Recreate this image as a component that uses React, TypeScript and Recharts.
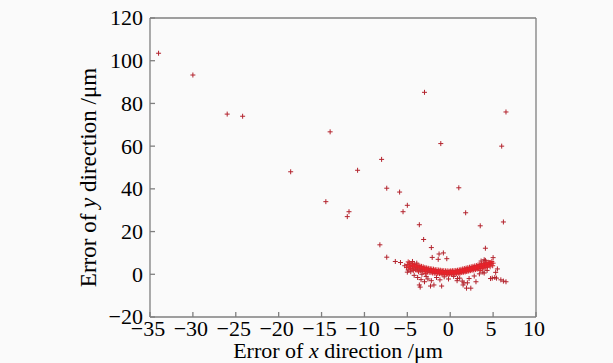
import { ScatterChart, Scatter, XAxis, YAxis } from 'recharts';

// scattered outliers (x, y) in µm
const outliers: [number, number][] = [
  [-34.0, 103.5], [-30.0, 93.3], [-26.0, 75.0], [-24.2, 74.0], [-18.6, 48.0],
  [-14.5, 34.0], [-14.0, 66.7], [-12.0, 27.0], [-11.8, 29.3], [-10.8, 48.7],
  [-8.0, 53.8], [-7.4, 40.3], [-8.2, 13.8], [-7.4, 8.0], [-5.9, 38.5],
  [-5.0, 32.3], [-5.5, 29.3], [-3.6, 23.2], [-3.1, 16.3], [-3.0, 85.2],
  [-1.1, 61.2], [1.0, 40.5], [1.8, 28.8], [3.5, 22.7], [4.1, 12.2],
  [6.0, 60.0], [6.5, 76.0], [6.2, 24.5], [6.5, -3.5], [6.2, -3.2],
];

// points just around the main band
const nearBand: [number, number][] = [
  [-2.2, 12.5], [-1.3, 9.5], [-0.8, 10.0], [-2.1, 7.9], [-1.4, 7.0], [-0.4, 7.3],
  [-6.4, 6.0], [-5.8, 5.5], [-5.0, 1.0], [-3.6, -5.0], [-3.5, -6.0], [-3.0, -3.5],
  [-2.3, -5.5], [-1.9, -5.0], [-1.0, -5.5], [0.8, -3.0], [1.5, -5.0], [1.9, -6.5],
  [2.4, -6.5], [4.7, -2.0], [5.2, -1.5], [5.4, -1.8], [5.5, 2.5], [5.0, 7.8],
  [4.6, 5.5], [5.9, -2.6], [5.3, 0.9], [3.96, 0.6], [3.96, 6.8], [1.6, -4.0],
  [2.0, -4.0], [0.85, -2.0], [4.9, -1.8],
  [-4.6, 1.2], [-4.2, -0.5], [-3.8, -1.5], [-3.4, -2.5], [-3.3, 0.0], [-2.8, -1.0],
  [-2.6, -2.2], [-2.2, -3.0], [-1.6, -1.5], [-1.2, -2.6], [-0.7, -1.2], [-0.2, -2.2],
  [0.4, -1.0], [1.1, -1.8], [1.4, -3.2], [2.2, -2.0], [2.8, -0.8], [3.0, -3.5],
  [3.4, 0.2], [3.8, 1.0], [4.3, 1.8], [4.1, 6.5], [3.6, 6.2], [-4.4, 6.0],
  [-3.9, 5.2], [-5.3, 4.0], [-4.9, 2.0],
];

// the dense curved band near the origin
const band: [number, number][] = [
  [-5.0, 4.6], [-4.9, 5.8], [-5.1, 3.2],
  [-4.8, 4.3], [-4.7, 2.9], [-4.75, 5.4],
  [-4.6, 4.0], [-4.55, 5.0], [-4.65, 2.5],
  [-4.4, 3.8], [-4.35, 4.9], [-4.45, 2.6], [-4.3, 1.8],
  [-4.2, 3.5], [-4.15, 4.6], [-4.25, 2.4],
  [-4.0, 3.3], [-3.95, 4.4], [-4.05, 2.1], [-3.9, 3.0],
  [-3.8, 3.1], [-3.75, 4.2], [-3.85, 2.0], [-3.7, 1.2],
  [-3.6, 2.9], [-3.55, 3.9], [-3.65, 1.8],
  [-3.4, 2.7], [-3.35, 3.7], [-3.45, 1.6], [-3.3, 2.2],
  [-3.2, 2.5], [-3.15, 3.5], [-3.25, 1.4],
  [-3.0, 2.3], [-2.95, 3.2], [-3.05, 1.3], [-2.9, 0.4],
  [-2.8, 2.1], [-2.75, 3.0], [-2.85, 1.2],
  [-2.6, 2.0], [-2.55, 2.8], [-2.65, 1.0], [-2.5, 1.6],
  [-2.4, 1.8], [-2.35, 2.7], [-2.45, 0.9],
  [-2.2, 1.7], [-2.15, 2.5], [-2.25, 0.8], [-2.1, 1.2],
  [-2.0, 1.5], [-1.95, 2.4], [-2.05, 0.6],
  [-1.8, 1.4], [-1.75, 2.2], [-1.85, 0.5], [-1.7, 1.0],
  [-1.6, 1.3], [-1.55, 2.1], [-1.65, 0.4],
  [-1.4, 1.2], [-1.35, 2.0], [-1.45, 0.4], [-1.3, 0.8],
  [-1.2, 1.1], [-1.15, 1.9], [-1.25, 0.3],
  [-1.0, 1.0], [-0.95, 1.8], [-1.05, 0.2], [-0.9, 0.6],
  [-0.8, 0.9], [-0.75, 1.7], [-0.85, 0.1],
  [-0.6, 0.9], [-0.55, 1.6], [-0.65, 0.1], [-0.5, 0.5],
  [-0.4, 0.8], [-0.35, 1.6], [-0.45, 0.0],
  [-0.2, 0.8], [-0.15, 1.5], [-0.25, 0.0], [-0.1, 0.4],
  [0.0, 0.8], [0.05, 1.6], [-0.05, 0.0],
  [0.2, 0.9], [0.25, 1.7], [0.15, 0.1], [0.3, 0.5],
  [0.4, 0.9], [0.45, 1.7], [0.35, 0.1],
  [0.6, 1.0], [0.65, 1.8], [0.55, 0.2], [0.7, 0.6],
  [0.8, 1.1], [0.85, 1.9], [0.75, 0.3],
  [1.0, 1.3], [1.05, 2.1], [0.95, 0.5], [1.1, 0.9],
  [1.2, 1.4], [1.25, 2.3], [1.15, 0.6],
  [1.4, 1.6], [1.45, 2.5], [1.35, 0.8], [1.5, 1.2],
  [1.6, 1.8], [1.65, 2.7], [1.55, 1.0],
  [1.8, 2.0], [1.85, 2.9], [1.75, 1.1], [1.9, 1.5],
  [2.0, 2.2], [2.05, 3.1], [1.95, 1.3],
  [2.2, 2.4], [2.25, 3.3], [2.15, 1.5], [2.3, 1.9],
  [2.4, 2.6], [2.45, 3.5], [2.35, 1.7],
  [2.6, 2.8], [2.65, 3.7], [2.55, 1.9], [2.7, 2.3],
  [2.8, 3.0], [2.85, 3.9], [2.75, 2.0],
  [3.0, 3.2], [3.05, 4.1], [2.95, 2.2], [3.1, 2.7],
  [3.2, 3.4], [3.25, 4.4], [3.15, 2.4],
  [3.4, 3.6], [3.45, 4.6], [3.35, 2.6], [3.5, 1.8],
  [3.6, 3.8], [3.65, 4.9], [3.55, 2.8],
  [3.8, 4.0], [3.85, 5.1], [3.75, 2.9], [3.9, 3.4],
  [4.0, 4.2], [4.05, 5.3], [3.95, 3.1],
  [4.2, 4.4], [4.25, 5.4], [4.15, 3.2],
  [4.4, 4.6], [4.45, 5.6], [4.35, 3.4],
  [4.6, 4.8], [4.65, 3.5],
  [4.8, 5.0], [4.85, 6.0],
  [5.0, 5.2], [4.95, 4.0],
];

// extra points filling the brightest part of the band
const bandCore: [number, number][] = [
  [-2.9, 1.9], [-2.7, 2.5], [-2.3, 2.1], [-2.0, 1.1], [-1.9, 1.8], [-1.7, 1.6],
  [-1.5, 0.8], [-1.3, 1.5], [-1.1, 0.7], [-0.9, 1.3], [-0.7, 0.4], [-0.5, 1.2],
  [-0.3, 0.3], [-0.1, 1.1], [0.1, 0.4], [0.1, 1.2], [0.3, 1.3], [0.5, 0.6],
  [0.7, 1.4], [0.9, 0.8], [1.1, 1.7], [1.3, 1.1], [1.5, 2.0], [1.7, 1.4],
  [1.9, 2.4], [2.1, 1.8], [2.3, 2.8], [2.5, 2.2], [2.7, 3.2], [2.9, 2.6],
  [3.1, 3.6], [3.3, 3.0], [3.5, 4.1], [3.7, 3.3], [3.9, 4.5], [4.1, 3.8],
  [4.3, 4.9], [4.5, 4.2], [4.7, 5.4], [-3.1, 2.8], [-3.5, 3.3], [-3.9, 3.7],
  [-4.3, 4.2], [-4.7, 3.6],
];

const xTicks = [-35, -30, -25, -20, -15, -10, -5, 0, 5, 10];
const yTicks = [-20, 0, 20, 40, 60, 80, 100, 120];

const FONT = '"Liberation Serif", "DejaVu Serif", serif';
const FRAME = '#7f7f7f';
const MARK = '#b3232d';
const BAND = '#d12a30';
const CORE = '#e8222a';

const fmt = (v: number) => String(v).replace('-', '\u2212');

const toRows = (pts: [number, number][]) => pts.map(([x, y]) => ({ x, y }));

function makePlus(color: string) {
  return function Plus(props: any) {
    const { cx, cy } = props;
    if (cx == null || cy == null) return <g />;
    return (
      <g stroke={color} strokeWidth={1}>
        <line x1={cx - 2.5} y1={cy} x2={cx + 2.5} y2={cy} />
        <line x1={cx} y1={cy - 2.5} x2={cx} y2={cy + 2.5} />
      </g>
    );
  };
}

const PlusDark = makePlus(MARK);
const PlusBand = makePlus(BAND);
const PlusBright = makePlus(CORE);

const Empty = () => <g />;

function XTick(props: any) {
  const { x, y, payload } = props;
  return (
    <text
      x={x - 2}
      y={y - 1}
      dy="0.72em"
      textAnchor="middle"
      fontFamily={FONT}
      fontSize={22}
      fill="#000"
    >
      {fmt(payload.value)}
    </text>
  );
}

function YTick(props: any) {
  const { x, y, payload } = props;
  return (
    <text
      x={x}
      y={y}
      dy="0.34em"
      textAnchor="end"
      fontFamily={FONT}
      fontSize={22}
      fill="#000"
    >
      {fmt(payload.value)}
    </text>
  );
}

function YLabel(props: any) {
  const { viewBox } = props;
  const cx = viewBox.x + 8;
  const cy = viewBox.y + viewBox.height / 2 + 10;
  return (
    <text
      x={cx}
      y={cy}
      transform={`rotate(-90 ${cx} ${cy})`}
      textAnchor="middle"
      dominantBaseline="central"
      fontFamily={FONT}
      fontSize={23}
      fill="#000"
    >
      Error of <tspan fontStyle="italic">y</tspan> direction /μm
    </text>
  );
}

function XLabel(props: any) {
  const { viewBox } = props;
  const cx = viewBox.x + viewBox.width / 2 - 5;
  return (
    <text
      x={cx}
      y={358}
      textAnchor="middle"
      fontFamily={FONT}
      fontSize={22}
      fill="#000"
    >
      Error of <tspan fontStyle="italic">x</tspan> direction /μm
    </text>
  );
}

export default function App() {
  return (
    <div
      style={{
        position: 'absolute',
        left: 0,
        top: 0,
        width: 613,
        height: 363,
        background: '#fafafa',
      }}
    >
      <ScatterChart
        width={613}
        height={363}
        margin={{ top: 18, right: 77, bottom: 0, left: 80 }}
      >
        <XAxis
          xAxisId="bottom"
          dataKey="x"
          type="number"
          domain={[-35, 10]}
          ticks={xTicks}
          allowDataOverflow
          height={46}
          tickSize={-5}
          tickMargin={9}
          tick={XTick}
          stroke={FRAME}
          strokeWidth={1.3}
          label={<XLabel />}
        />
        <XAxis
          xAxisId="top"
          orientation="top"
          dataKey="x"
          type="number"
          domain={[-35, 10]}
          ticks={xTicks}
          height={1}
          mirror
          tickSize={5}
          tick={Empty}
          stroke={FRAME}
          strokeWidth={1.3}
        />
        <YAxis
          yAxisId="left"
          dataKey="y"
          type="number"
          domain={[-20, 120]}
          ticks={yTicks}
          allowDataOverflow
          width={70}
          tickSize={-5}
          tickMargin={12}
          tick={YTick}
          stroke={FRAME}
          strokeWidth={1.3}
          label={<YLabel />}
        />
        <YAxis
          yAxisId="right"
          orientation="right"
          dataKey="y"
          type="number"
          domain={[-20, 120]}
          ticks={yTicks}
          width={1}
          mirror
          tickSize={5}
          tick={Empty}
          stroke={FRAME}
          strokeWidth={1.3}
        />
        <Scatter
          xAxisId="bottom"
          yAxisId="left"
          data={toRows(outliers)}
          shape={PlusDark}
          isAnimationActive={false}
        />
        <Scatter
          xAxisId="bottom"
          yAxisId="left"
          data={toRows(nearBand)}
          shape={PlusDark}
          isAnimationActive={false}
        />
        <Scatter
          xAxisId="bottom"
          yAxisId="left"
          data={toRows(band)}
          shape={PlusBand}
          isAnimationActive={false}
        />
        <Scatter
          xAxisId="bottom"
          yAxisId="left"
          data={toRows(bandCore)}
          shape={PlusBright}
          isAnimationActive={false}
        />
      </ScatterChart>
    </div>
  );
}
